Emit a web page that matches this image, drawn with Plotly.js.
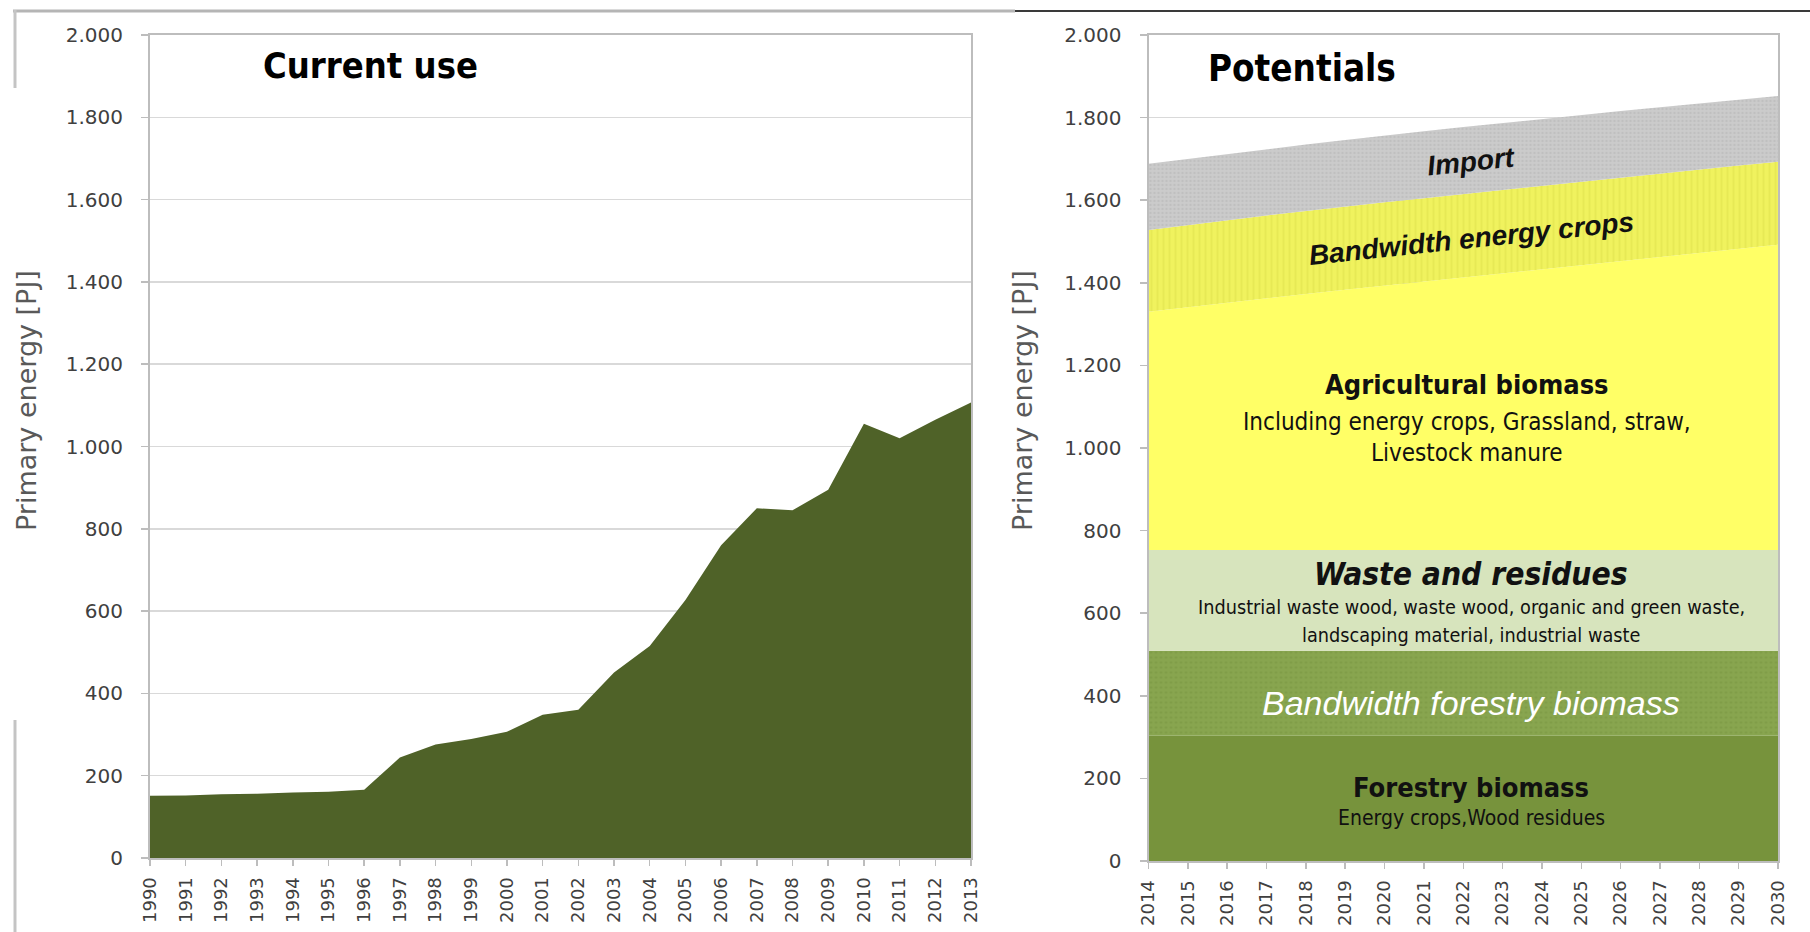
<!DOCTYPE html>
<html>
<head>
<meta charset="utf-8">
<script src="https://cdn.plot.ly/plotly-3.0.1.min.js"></script>
<style>html,body{margin:0;padding:0;background:#fff;}#chart{width:1810px;height:932px;}</style>
</head>
<body>
<div id="chart"></div>
<script>
// ---------- data ----------
const yearsCurrent = [1990,1991,1992,1993,1994,1995,1996,1997,1998,1999,2000,2001,2002,2003,2004,2005,2006,2007,2008,2009,2010,2011,2012,2013];
const currentUse   = [151,152,155,156,159,161,166,244,276,289,307,348,360,451,515,627,760,850,845,895,1055,1020,1065,1107];

const yearsPotential = [2014,2015,2016,2017,2018,2019,2020,2021,2022,2023,2024,2025,2026,2027,2028,2029,2030];
// cumulative upper edges of the stacked potential bands (PJ)
const forestryTop      = [303,303,303,303,303,303,303,303,303,303,303,303,303,303,303,303,303];
const bwForestryTop    = [509,509,509,509,509,509,509,509,509,509,509,509,509,509,509,509,509];
const wasteTop         = [753,753,753,753,753,753,753,753,753,753,753,753,753,753,753,753,753];
const agriTop          = [1330,1341,1352,1363,1373,1383,1393,1403,1413,1423,1433,1442,1452,1462,1472,1482,1492];
const energyCropsTop   = [1528,1540,1552,1563,1574,1585,1595,1605,1615,1625,1635,1645,1654,1664,1674,1684,1693];
const importTop        = [1688,1700,1712,1724,1735,1746,1757,1767,1777,1787,1797,1807,1816,1825,1834,1843,1852];

const yTickVals = [0,200,400,600,800,1000,1200,1400,1600,1800,2000];
const yTickText = ['0','200','400','600','800','1.000','1.200','1.400','1.600','1.800','2.000'];
const xTickTextCurrent = yearsCurrent.map(String);
const xTickTextPotential = yearsPotential.map(String);

// ---------- styling ----------
const NARROW = "'Liberation Sans Narrow','Arial Narrow','DejaVu Sans Condensed',sans-serif";
const SANS = "'Liberation Sans',Arial,sans-serif";
const TICKF = {family: "'DejaVu Sans',sans-serif", size: 18, color: '#404040'};
const LINEC = '#bdbdbd';

const traces = [
  {x: yearsCurrent, y: currentUse, type: 'scatter', mode: 'lines', fill: 'tozeroy',
   fillcolor: '#4F6228', line: {width: 0, color: '#4F6228'}, xaxis: 'x', yaxis: 'y', hoverinfo: 'skip'},

  {x: yearsPotential, y: forestryTop, type: 'scatter', mode: 'lines', fill: 'tozeroy',
   fillcolor: '#77933C', line: {width: 0}, xaxis: 'x2', yaxis: 'y2', hoverinfo: 'skip'},
  {x: yearsPotential, y: bwForestryTop, type: 'scatter', mode: 'lines', fill: 'tonexty',
   fillcolor: '#88A54F', fillpattern: {shape: '.', size: 5, solidity: 0.2, bgcolor: '#88A54F', fgcolor: '#7F9C47'},
   line: {width: 0}, xaxis: 'x2', yaxis: 'y2', hoverinfo: 'skip'},
  {x: yearsPotential, y: wasteTop, type: 'scatter', mode: 'lines', fill: 'tonexty',
   fillcolor: '#D7E4BD', line: {width: 0}, xaxis: 'x2', yaxis: 'y2', hoverinfo: 'skip'},
  {x: yearsPotential, y: agriTop, type: 'scatter', mode: 'lines', fill: 'tonexty',
   fillcolor: '#FFFF66', line: {width: 0}, xaxis: 'x2', yaxis: 'y2', hoverinfo: 'skip'},
  {x: yearsPotential, y: energyCropsTop, type: 'scatter', mode: 'lines', fill: 'tonexty',
   fillcolor: '#F0F25E', fillpattern: {shape: '|', size: 6, solidity: 0.12, bgcolor: '#F0F25E', fgcolor: '#D6D846'},
   line: {width: 0}, xaxis: 'x2', yaxis: 'y2', hoverinfo: 'skip'},
  {x: yearsPotential, y: importTop, type: 'scatter', mode: 'lines', fill: 'tonexty',
   fillcolor: '#C9C9C9', fillpattern: {shape: '.', size: 4, solidity: 0.25, bgcolor: '#CBCBCB', fgcolor: '#BFBFBF'},
   line: {width: 0}, xaxis: 'x2', yaxis: 'y2', hoverinfo: 'skip'}
];

function xAxis(domain, range, vals, text, anchor) {
  return {domain: domain, range: range, anchor: anchor, tickmode: 'array', tickvals: vals, ticktext: text,
    tickangle: -90, ticks: 'outside', ticklen: 6, tickcolor: LINEC, tickwidth: 1.5, showgrid: false,
    showline: true, linecolor: LINEC, linewidth: 2, mirror: true, tickfont: TICKF, zeroline: false,
    ticklabelstandoff: 4, fixedrange: true};
}
function yAxis(domain, anchor) {
  return {domain: domain, range: [0, 2000], anchor: anchor, tickmode: 'array', tickvals: yTickVals, ticktext: yTickText,
    ticks: 'outside', ticklen: 7, tickcolor: LINEC, tickwidth: 1.5, showgrid: true, gridcolor: '#d9d9d9', gridwidth: 1.5,
    showline: true, linecolor: LINEC, linewidth: 2, mirror: true, zeroline: false, fixedrange: true,
    tickfont: {family: "'DejaVu Sans',sans-serif", size: 20, color: '#404040'}, ticklabelstandoff: 14};
}

function ann(text, x, y, size, opts) {
  return Object.assign({text: text, x: x, y: y, xref: 'x2', yref: 'y2', showarrow: false,
    xanchor: 'center', yanchor: 'middle',
    font: {family: NARROW, size: size, color: '#111111'}}, opts || {});
}

function px(x) { return x / 1810; }
function py(y) { return 1 - y / 932; }

const YTITLE = {family: "'DejaVu Sans',sans-serif", size: 27, color: '#595959'};

const annotations = [
  {text: 'Primary energy [PJ]', x: px(26), y: py(401), xref: 'paper', yref: 'paper', textangle: -90,
   xanchor: 'center', yanchor: 'middle', showarrow: false, font: YTITLE},
  {text: 'Primary energy [PJ]', x: px(1022), y: py(401), xref: 'paper', yref: 'paper', textangle: -90,
   xanchor: 'center', yanchor: 'middle', showarrow: false, font: YTITLE},
  {text: '<b>Current use</b>', x: 1993.1, y: 1927, xref: 'x', yref: 'y', xanchor: 'left', yanchor: 'middle',
   showarrow: false, font: {family: NARROW, size: 36, color: '#000'}},
  {text: '<b>Potentials</b>', x: 2015.45, y: 1920, xref: 'x2', yref: 'y2', xanchor: 'left', yanchor: 'middle',
   showarrow: false, font: {family: NARROW, size: 36.5, color: '#000'}},
  ann('<b><i>Import</i></b>', 2022.2, 1694, 28, {textangle: -6, font: {family: SANS, size: 28, color: '#111'}}),
  ann('<b><i>Bandwidth energy crops</i></b>', 2022.2, 1508, 28, {textangle: -6, font: {family: SANS, size: 28, color: '#111'}}),
  ann('<b>Agricultural biomass</b>', 2022.1, 1153, 27),
  ann('Including energy crops, Grassland, straw,', 2022.1, 1063, 24),
  ann('Livestock manure', 2022.1, 988, 24),
  ann('<b><i>Waste and residues</i></b>', 2022.2, 695, 31.5),
  ann('Industrial waste wood, waste wood, organic and green waste,', 2022.2, 613, 19.7),
  ann('landscaping material, industrial waste', 2022.2, 545, 19.7),
  ann('<i>Bandwidth forestry biomass</i>', 2022.2, 383, 34, {font: {family: SANS, size: 34, color: '#ffffff'}}),
  ann('<b>Forestry biomass</b>', 2022.2, 179, 27),
  ann('Energy crops,Wood residues', 2022.2, 104, 21)
];

// decorative frame remnants of the original figure
const shapes = [
  {type: 'line', xref: 'paper', yref: 'paper', x0: px(13), x1: px(1015), y0: py(11), y1: py(11), line: {color: '#b5b5b5', width: 3}},
  {type: 'line', xref: 'paper', yref: 'paper', x0: px(1015), x1: px(1810), y0: py(11), y1: py(11), line: {color: '#3a3a3a', width: 2}},
  {type: 'line', xref: 'paper', yref: 'paper', x0: px(15), x1: px(15), y0: py(10), y1: py(88), line: {color: '#c4c4c4', width: 3}},
  {type: 'line', xref: 'paper', yref: 'paper', x0: px(15), x1: px(15), y0: py(720), y1: py(932), line: {color: '#c4c4c4', width: 3}}
];

const layout = {
  width: 1810, height: 932, margin: {l: 0, r: 0, t: 0, b: 0},
  paper_bgcolor: '#ffffff', plot_bgcolor: '#ffffff', showlegend: false,
  xaxis: xAxis([150/1810, 971/1810], [1990, 2013], yearsCurrent, xTickTextCurrent, 'y'),
  yaxis: yAxis([(932-858)/932, (932-35)/932], 'x'),
  xaxis2: xAxis([1148.5/1810, 1778/1810], [2014, 2030], yearsPotential, xTickTextPotential, 'y2'),
  yaxis2: yAxis([(932-861)/932, (932-35)/932], 'x2'),
  annotations: annotations,
  shapes: shapes
};

Plotly.newPlot('chart', traces, layout, {staticPlot: true, displayModeBar: false});
</script>
</body>
</html>
